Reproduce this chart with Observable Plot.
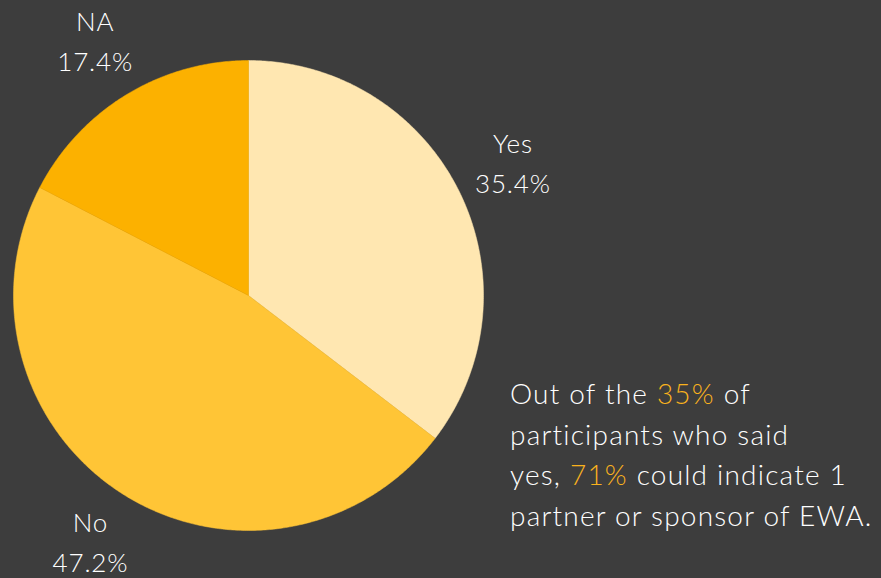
<!DOCTYPE html>
<html>
<head>
<meta charset="utf-8">
<script src="https://cdn.jsdelivr.net/npm/d3@7"></script>
<script src="https://cdn.jsdelivr.net/npm/@observablehq/plot@0.6"></script>
<style>
  html, body { margin: 0; padding: 0; background: #3d3d3d; }
  #wrap { position: relative; width: 881px; height: 578px; overflow: hidden; }
  #note {
    position: absolute; left: 510px; top: 373px;
    font-family: Lato, "Open Sans", sans-serif; font-weight: 300;
    font-size: 28px; line-height: 40.5px; letter-spacing: 1.2px; color: #ffffff; white-space: nowrap;
  }
  #note .hl { color: #f9b21d; }
  #chart svg text { letter-spacing: 0.9px; }
</style>
</head>
<body>
<div id="wrap">
  <div id="chart"></div>
  <div id="note">Out of the <span class="hl">35%</span> of<br>participants who said<br>yes, <span class="hl">71%</span> could indicate 1<br>partner or sponsor of EWA.</div>
</div>
<script>
const categories = ["Yes", "No", "NA"];
const values = [35.4, 47.2, 17.4];
const colors = ["#ffe7b1", "#ffc536", "#fcb100"];

// Build slice polygons from the data (clockwise from 12 o'clock)
const total = d3.sum(values);
const polys = [];
const labels = [];
let acc = 0;
categories.forEach((cat, i) => {
  const a0 = acc / total * 2 * Math.PI;
  acc += values[i];
  const a1 = acc / total * 2 * Math.PI;
  polys.push({cat, x: 0, y: 0});
  const n = Math.max(2, Math.ceil((a1 - a0) / (Math.PI / 360)));
  for (let k = 0; k <= n; k++) {
    const a = a0 + (a1 - a0) * k / n;
    polys.push({cat, x: Math.sin(a), y: Math.cos(a)});
  }
  polys.push({cat, x: 0, y: 0});
  const am = (a0 + a1) / 2;
  const lr = 1.255;
  labels.push({cat, text: `${cat}\n${values[i].toFixed(1)}%`, x: lr * Math.sin(am), y: lr * Math.cos(am)});
});

const chart = Plot.plot({
  width: 881,
  height: 578,
  marginLeft: 13,
  marginRight: 398,
  marginTop: 60,
  marginBottom: 48,
  style: {background: "#3d3d3d", fontFamily: "Lato, 'Open Sans', sans-serif"},
  x: {domain: [-1, 1], axis: null},
  y: {domain: [-1, 1], axis: null},
  color: {domain: categories, range: colors},
  marks: [
    Plot.line(polys, {x: "x", y: "y", z: "cat", fill: "cat", stroke: "cat", strokeWidth: 0.5, curve: "linear"}),
    Plot.text(labels, {x: "x", y: "y", text: "text", fill: "#ffffff", fontSize: 26, fontWeight: 300, lineHeight: 1.54, textAnchor: "middle", dy: -5})
  ]
});
document.getElementById("chart").appendChild(chart);
</script>
</body>
</html>
